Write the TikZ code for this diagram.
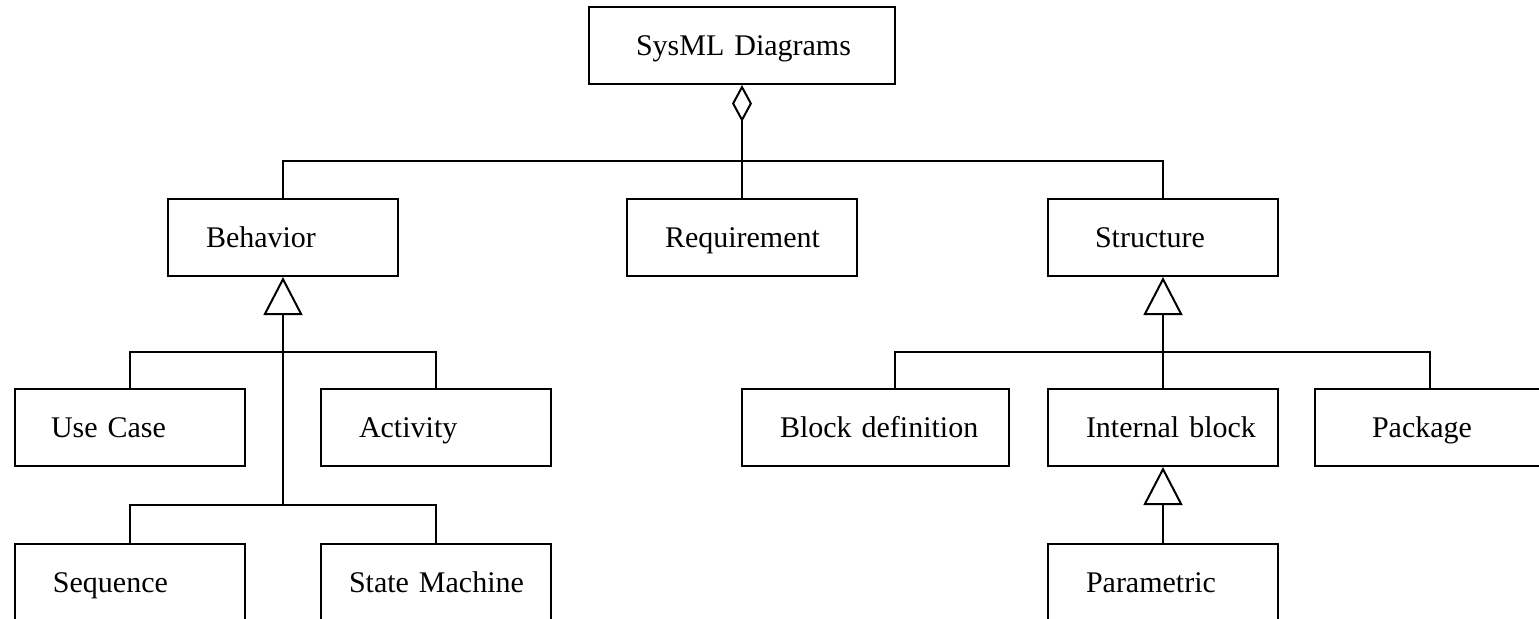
\documentclass[tikz,border=0pt]{standalone}
\usepackage{fontspec}
\setmainfont{Liberation Serif}
\usetikzlibrary{arrows.meta}

\begin{document}
\begin{tikzpicture}[x=0.5pt, y=-0.5pt,
  umlbox/.style={draw=black, line width=1pt, text width=#1, align=left, inner xsep=0pt, inner ysep=0pt, minimum height=38.5pt, text height=10pt, text depth=0pt, font=\fontsize{15pt}{18pt}\selectfont},
  umlbox/.default=115pt,
  umlline/.style={draw=black, line width=1pt},
  gen/.style={umlline, -{Triangle[open, length=19pt, width=19.5pt]}},
  agg/.style={umlline, -{Diamond[open, length=18.5pt, width=10pt]}}]
\useasboundingbox (0,0) rectangle (1539,618);
\clip (0,0) rectangle (1539,618);

\node[umlbox=153pt] (sysml) at (742,45.5) {\hspace*{23.5pt}SysML Diagrams};
\node[umlbox] (behavior) at (283,237.5) {\hspace*{19pt}Behavior};
\node[umlbox] (requirement) at (742,237.5) {\hspace*{19pt}Requirement};
\node[umlbox] (structure) at (1163,237.5) {\hspace*{23.5pt}Structure};
\node[umlbox] (usecase) at (130,427.5) {\hspace*{18pt}Use Case};
\node[umlbox] (activity) at (436,427.5) {\hspace*{19pt}Activity};
\node[umlbox=133.5pt] (blockdef) at (875.5,427.5) {\hspace*{19pt}Block definition};
\node[umlbox] (internal) at (1163,427.5) {\hspace*{19pt}Internal block};
\node[umlbox] (package) at (1430,427.5) {\hspace*{28.5pt}Package};
\node[umlbox] (sequence) at (130,582.5) {\hspace*{19pt}Sequence};
\node[umlbox] (statemachine) at (436,582.5) {\hspace*{14pt}State Machine};
\node[umlbox] (parametric) at (1163,582.5) {\hspace*{19pt}Parametric};

\coordinate (topbus) at (742,161);
\coordinate (behbus) at (283,352);
\coordinate (behbus2) at (283,505);
\coordinate (strbus) at (1163,352);

\draw[agg] (requirement.north) -- (sysml.south);
\draw[umlline] (behavior.north) |- (topbus) -| (structure.north);
\draw[gen] (behbus2) -- (behavior.south);
\draw[umlline] (usecase.north) |- (behbus) -| (activity.north);
\draw[umlline] (sequence.north) |- (behbus2) -| (statemachine.north);
\draw[gen] (internal.north) -- (structure.south);
\draw[umlline] ([xshift=9.75pt]blockdef.north) |- (strbus) -| (package.north);
\draw[gen] (parametric.north) -- (internal.south);
\end{tikzpicture}
\end{document}
